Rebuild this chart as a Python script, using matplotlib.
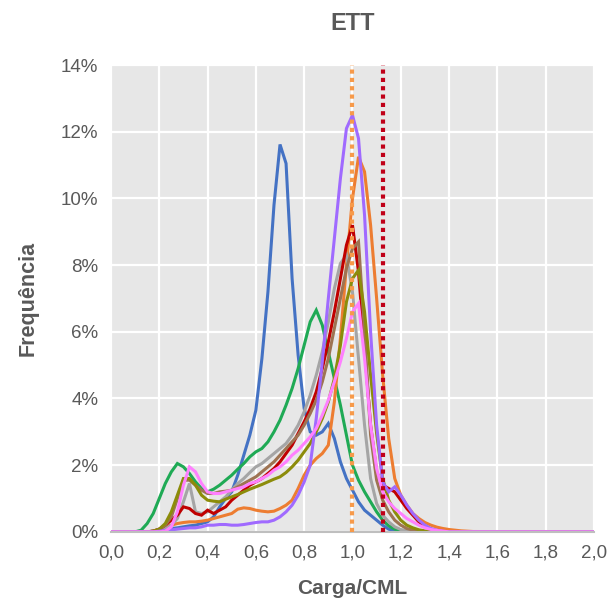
import numpy as np
import matplotlib
matplotlib.use("Agg")
import matplotlib.pyplot as plt
from matplotlib.ticker import FuncFormatter, MultipleLocator

plt.rcParams['font.family'] = ['Liberation Sans', 'DejaVu Sans']

# classes de Carga/CML (passo 0,025)
carga = [0.100, 0.125, 0.150, 0.175, 0.200, 0.225, 0.250, 0.275, 0.300, 0.325,
         0.350, 0.375, 0.400, 0.425, 0.450, 0.475, 0.500, 0.525, 0.550, 0.575,
         0.600, 0.625, 0.650, 0.675, 0.700, 0.725, 0.750, 0.775, 0.800, 0.825,
         0.850, 0.875, 0.900, 0.925, 0.950, 0.975, 1.000, 1.025, 1.050, 1.075,
         1.100, 1.125, 1.150, 1.175, 1.200, 1.225, 1.250, 1.275, 1.300, 1.325,
         1.350, 1.375, 1.400, 1.425, 1.450, 1.475, 1.500]

# frequências (%)
azul = [0, 0, 0, 0.02, 0.05, 0.08, 0.1, 0.12, 0.15, 0.18,
        0.2, 0.25, 0.3, 0.45, 0.75, 1.0, 1.2, 1.7, 2.3, 2.9,
        3.65, 5.2, 7.2, 9.8, 11.62, 11.05, 7.6, 5.3, 3.7, 3.0,
        2.9, 3.0, 3.25, 2.8, 2.1, 1.6, 1.25, 0.9, 0.65, 0.5,
        0.35, 0.2, 0.08, 0.03, 0.01, 0, 0, 0, 0, 0,
        0, 0, 0, 0, 0, 0, 0]
verde = [0, 0.05, 0.25, 0.55, 1.0, 1.45, 1.8, 2.05, 1.95, 1.75,
         1.5, 1.3, 1.2, 1.28, 1.4, 1.55, 1.7, 1.88, 2.05, 2.25,
         2.4, 2.5, 2.7, 3.0, 3.35, 3.8, 4.3, 4.9, 5.6, 6.3,
         6.65, 6.2, 5.4, 4.6, 3.8, 2.9, 2.0, 1.55, 1.2, 0.9,
         0.6, 0.35, 0.18, 0.08, 0.03, 0, 0, 0, 0, 0,
         0, 0, 0, 0, 0, 0, 0]
laranja = [0, 0, 0, 0.02, 0.08, 0.15, 0.2, 0.25, 0.28, 0.3,
           0.3, 0.32, 0.35, 0.4, 0.45, 0.5, 0.55, 0.68, 0.72, 0.7,
           0.65, 0.62, 0.6, 0.62, 0.7, 0.8, 0.95, 1.3, 1.7, 2.0,
           2.2, 2.35, 2.6, 3.9, 5.8, 8.0, 10.0, 11.25, 10.8, 9.2,
           7.0, 4.7, 2.8, 1.6, 1.1, 0.8, 0.55, 0.4, 0.28, 0.2,
           0.14, 0.1, 0.07, 0.05, 0.03, 0.02, 0.01]
cinza = [0, 0, 0, 0.02, 0.05, 0.1, 0.2, 0.4, 0.9, 1.45,
         0.6, 0.55, 0.6, 0.75, 0.9, 1.05, 1.25, 1.45, 1.6, 1.78,
         1.95, 2.05, 2.2, 2.35, 2.5, 2.65, 2.9, 3.2, 3.6, 4.1,
         4.7, 5.4, 6.3, 7.3, 8.05, 8.3, 7.2, 5.2, 3.2, 1.6,
         0.85, 0.5, 0.3, 0.15, 0.07, 0.03, 0, 0, 0, 0,
         0, 0, 0, 0, 0, 0, 0]
vermelho = [0, 0, 0, 0.02, 0.08, 0.2, 0.35, 0.5, 0.75, 0.7,
            0.55, 0.5, 0.65, 0.55, 0.65, 0.75, 0.95, 1.1, 1.25, 1.4,
            1.5, 1.6, 1.75, 1.9, 2.1, 2.35, 2.6, 2.95, 3.3, 3.7,
            4.2, 4.9, 5.7, 6.6, 7.6, 8.6, 9.2, 7.8, 5.5, 3.2,
            1.8, 1.4, 1.3, 1.2, 0.95, 0.7, 0.5, 0.3, 0.15, 0.07,
            0.03, 0, 0, 0, 0, 0, 0]
marrom = [0, 0, 0, 0.02, 0.08, 0.2, 0.45, 1.0, 1.55, 1.55,
          1.4, 1.25, 1.15, 1.15, 1.2, 1.22, 1.25, 1.35, 1.45, 1.55,
          1.65, 1.8, 1.95, 2.1, 2.3, 2.5, 2.7, 2.9, 3.2, 3.55,
          3.95, 4.5, 5.2, 6.1, 7.0, 7.9, 8.5, 8.7, 6.0, 2.9,
          1.55, 0.95, 0.6, 0.35, 0.2, 0.1, 0.05, 0.02, 0, 0,
          0, 0, 0, 0, 0, 0, 0]
oliva = [0, 0, 0, 0.02, 0.08, 0.25, 0.6, 1.1, 1.6, 1.6,
         1.4, 1.1, 0.95, 0.92, 0.9, 0.98, 1.05, 1.12, 1.2, 1.28,
         1.35, 1.42, 1.5, 1.58, 1.65, 1.78, 1.95, 2.15, 2.4, 2.65,
         3.0, 3.4, 3.9, 4.6, 5.6, 6.9, 7.6, 7.85, 6.6, 4.7,
         2.95, 1.6, 0.95, 0.6, 0.35, 0.2, 0.12, 0.06, 0.03, 0,
         0, 0, 0, 0, 0, 0, 0]
roxo = [0, 0, 0, 0, 0.02, 0.04, 0.06, 0.08, 0.1, 0.12,
        0.12, 0.15, 0.2, 0.2, 0.22, 0.22, 0.2, 0.2, 0.22, 0.25,
        0.28, 0.3, 0.3, 0.35, 0.45, 0.6, 0.8, 1.1, 1.5, 2.0,
        3.4, 5.1, 7.0, 8.8, 10.6, 12.1, 12.5, 11.8, 9.5, 6.0,
        3.2, 1.5, 1.2, 1.35, 1.1, 0.8, 0.55, 0.35, 0.2, 0.1,
        0.05, 0.02, 0, 0, 0, 0, 0]
rosa = [0, 0, 0, 0, 0, 0.02, 0.15, 0.6, 1.4, 1.95,
        1.8, 1.45, 1.2, 1.15, 1.15, 1.2, 1.25, 1.3, 1.35, 1.45,
        1.5, 1.6, 1.7, 1.85, 1.95, 2.1, 2.3, 2.45, 2.65, 2.85,
        3.1, 3.5, 3.95, 4.5, 5.1, 5.8, 6.6, 6.85, 5.2, 3.2,
        1.9, 1.2, 0.9, 0.7, 0.55, 0.4, 0.3, 0.2, 0.12, 0.07,
        0.04, 0.02, 0, 0, 0, 0, 0]

series = [
    (azul, '#4472C4'),
    (verde, '#1FAA55'),
    (laranja, '#ED7D31'),
    (cinza, '#A5A5A5'),
    (vermelho, '#C00000'),
    (marrom, '#9E7352'),
    (oliva, '#8C8C0A'),
    (roxo, '#A06AFF'),
    (rosa, '#FF80FF'),
]

# linhas de referência
ref_laranja = 1.0
ref_vermelho = 1.125

x = [0.0] + carga + [2.0]

fig = plt.figure(figsize=(6.13, 6.03), dpi=100)
ax = fig.add_axes([0.181, 0.118, 0.788, 0.774])
ax.set_facecolor('#E7E7E7')

for vals, cor in series:
    y = [0.0] + vals + [0.0]
    ax.plot(x, np.array(y) / 100, color=cor, linewidth=2.2, solid_joinstyle='miter')

ax.axvline(ref_laranja, color='#F79A4A', linestyle=(0, (1, 1)), linewidth=3, zorder=5)
ax.axvline(ref_vermelho, color='#C00018', linestyle=(0, (1, 1)), linewidth=3, zorder=5)

ax.set_xlim(0, 2.0)
ax.set_ylim(0, 0.14)
ax.xaxis.set_major_locator(MultipleLocator(0.2))
ax.yaxis.set_major_locator(MultipleLocator(0.02))
ax.xaxis.set_major_formatter(FuncFormatter(lambda v, p: f"{v:.1f}".replace('.', ',')))
ax.yaxis.set_major_formatter(FuncFormatter(lambda v, p: f"{v*100:.0f}%"))
ax.grid(True, color='white', linewidth=1.6)
ax.set_axisbelow(True)
for s in ['top', 'right', 'left']:
    ax.spines[s].set_visible(False)
ax.spines['bottom'].set_color('#BFBFBF')
ax.spines['bottom'].set_linewidth(1.5)
ax.tick_params(length=0, labelsize=13.5, labelcolor='#595959', pad=9)

ax.set_title("ETT", fontsize=17, fontweight='bold', color='#595959', pad=25)
ax.set_xlabel("Carga/CML", fontsize=15, fontweight='bold', color='#595959', labelpad=13)
ax.set_ylabel("Frequência", fontsize=15.5, fontweight='bold', color='#595959', labelpad=16)

fig.savefig("out.png", dpi=100)
